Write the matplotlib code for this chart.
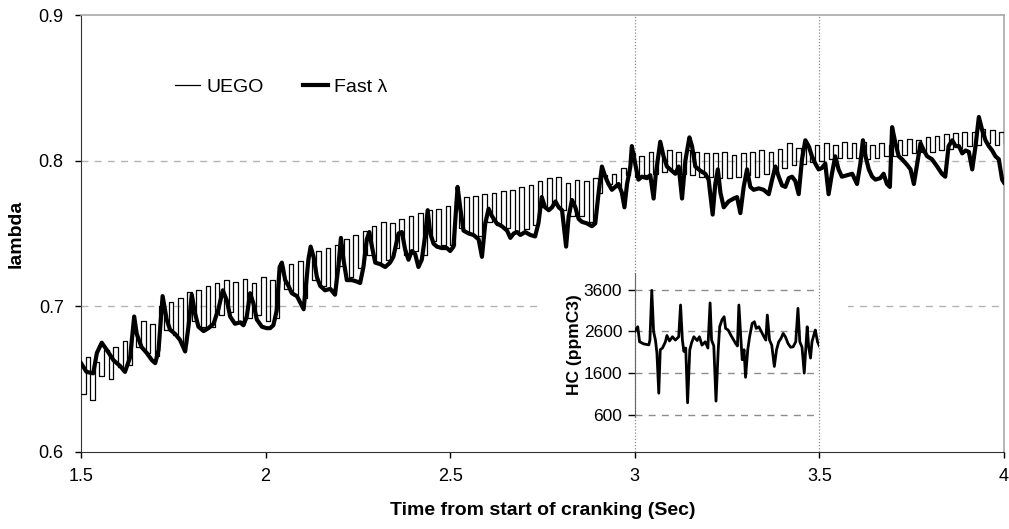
import matplotlib.pyplot as plt
import numpy as np
from matplotlib.patches import Rectangle

plt.rcParams['font.family'] = ['Liberation Sans', 'DejaVu Sans']

# UEGO lambda, held for 12.5 ms per sample starting at 1.5 s
uego = [0.640, 0.665, 0.636, 0.662, 0.652, 0.670, 0.650, 0.672,
        0.658, 0.676, 0.660, 0.684, 0.672, 0.690, 0.668, 0.688,
        0.666, 0.700, 0.684, 0.703, 0.680, 0.706, 0.674, 0.710,
        0.690, 0.711, 0.686, 0.714, 0.686, 0.716, 0.694, 0.718,
        0.696, 0.717, 0.690, 0.719, 0.692, 0.716, 0.694, 0.720,
        0.690, 0.718, 0.692, 0.727, 0.712, 0.729, 0.708, 0.731,
        0.706, 0.735, 0.718, 0.738, 0.714, 0.740, 0.712, 0.742,
        0.728, 0.746, 0.720, 0.749, 0.726, 0.752, 0.735, 0.755,
        0.730, 0.758, 0.732, 0.757, 0.740, 0.760, 0.735, 0.762,
        0.738, 0.764, 0.735, 0.766, 0.745, 0.767, 0.742, 0.769,
        0.742, 0.772, 0.754, 0.775, 0.750, 0.776, 0.748, 0.777,
        0.758, 0.778, 0.756, 0.779, 0.754, 0.780, 0.752, 0.782,
        0.753, 0.783, 0.756, 0.786, 0.768, 0.788, 0.770, 0.789,
        0.766, 0.785, 0.762, 0.787, 0.762, 0.786, 0.758, 0.788,
        0.778, 0.790, 0.784, 0.791, 0.782, 0.795, 0.790, 0.805,
        0.789, 0.803, 0.790, 0.806, 0.791, 0.807, 0.792, 0.807,
        0.792, 0.806, 0.791, 0.807, 0.790, 0.806, 0.789, 0.805,
        0.789, 0.805, 0.788, 0.806, 0.788, 0.804, 0.789, 0.805,
        0.790, 0.806, 0.789, 0.807, 0.791, 0.806, 0.793, 0.808,
        0.795, 0.812, 0.797, 0.809, 0.798, 0.810, 0.799, 0.811,
        0.800, 0.812, 0.801, 0.811, 0.802, 0.813, 0.802, 0.812,
        0.802, 0.813, 0.801, 0.811, 0.802, 0.812, 0.803, 0.811,
        0.803, 0.814, 0.804, 0.815, 0.805, 0.814, 0.806, 0.816,
        0.806, 0.817, 0.807, 0.818, 0.808, 0.819, 0.809, 0.820,
        0.810, 0.820, 0.811, 0.822, 0.812, 0.821, 0.811, 0.820,
        0.812]

# fast lambda sensor
fast_t = [1.500, 1.515, 1.533, 1.543, 1.556, 1.570, 1.588, 1.606, 1.619, 1.633,
          1.644, 1.651, 1.664, 1.678, 1.692, 1.701, 1.710, 1.721, 1.732, 1.741,
          1.755, 1.768, 1.782, 1.791, 1.800, 1.809, 1.818, 1.832, 1.845, 1.859,
          1.872, 1.884, 1.895, 1.904, 1.917, 1.931, 1.940, 1.949, 1.958, 1.967,
          1.976, 1.990, 2.003, 2.012, 2.021, 2.030, 2.038, 2.044, 2.053, 2.062,
          2.071, 2.085, 2.103, 2.116, 2.122, 2.130, 2.139, 2.148, 2.161, 2.175,
          2.188, 2.197, 2.204, 2.211, 2.220, 2.234, 2.247, 2.256, 2.265, 2.274,
          2.281, 2.288, 2.297, 2.310, 2.324, 2.337, 2.346, 2.360, 2.369, 2.378,
          2.387, 2.396, 2.405, 2.414, 2.423, 2.432, 2.439, 2.446, 2.455, 2.464,
          2.477, 2.491, 2.500, 2.509, 2.520, 2.527, 2.536, 2.550, 2.563, 2.577,
          2.586, 2.595, 2.604, 2.613, 2.626, 2.640, 2.654, 2.663, 2.672, 2.681,
          2.690, 2.703, 2.717, 2.730, 2.739, 2.748, 2.757, 2.767, 2.776, 2.785,
          2.794, 2.803, 2.814, 2.821, 2.830, 2.839, 2.848, 2.857, 2.870, 2.884,
          2.893, 2.902, 2.911, 2.920, 2.929, 2.938, 2.947, 2.956, 2.965, 2.972,
          2.979, 2.988, 2.992, 3.001, 3.010, 3.019, 3.033, 3.042, 3.051, 3.057,
          3.069, 3.078, 3.087, 3.096, 3.110, 3.119, 3.128, 3.137, 3.148, 3.155,
          3.164, 3.178, 3.191, 3.200, 3.211, 3.218, 3.225, 3.232, 3.241, 3.254,
          3.268, 3.277, 3.286, 3.295, 3.304, 3.313, 3.322, 3.336, 3.349, 3.363,
          3.372, 3.381, 3.390, 3.399, 3.408, 3.417, 3.426, 3.435, 3.444, 3.453,
          3.462, 3.471, 3.480, 3.489, 3.498, 3.507, 3.516, 3.525, 3.534, 3.543,
          3.552, 3.561, 3.575, 3.589, 3.602, 3.611, 3.618, 3.625, 3.634, 3.643,
          3.652, 3.665, 3.674, 3.683, 3.691, 3.697, 3.706, 3.715, 3.724, 3.738,
          3.747, 3.756, 3.765, 3.774, 3.783, 3.792, 3.805, 3.819, 3.832, 3.841,
          3.850, 3.860, 3.869, 3.878, 3.887, 3.896, 3.905, 3.914, 3.923, 3.932,
          3.941, 3.950, 3.959, 3.968, 3.977, 3.986, 3.995, 4.000]
fast = [0.661, 0.655, 0.654, 0.668, 0.675, 0.670, 0.663, 0.659, 0.655, 0.665,
        0.693, 0.681, 0.672, 0.668, 0.663, 0.661, 0.670, 0.707, 0.691, 0.684,
        0.681, 0.677, 0.669, 0.686, 0.708, 0.695, 0.686, 0.683, 0.685, 0.688,
        0.698, 0.711, 0.704, 0.693, 0.688, 0.689, 0.687, 0.693, 0.709, 0.702,
        0.691, 0.686, 0.685, 0.685, 0.687, 0.697, 0.727, 0.730, 0.718, 0.714,
        0.709, 0.707, 0.698, 0.732, 0.741, 0.734, 0.720, 0.714, 0.711, 0.712,
        0.708, 0.727, 0.747, 0.732, 0.718, 0.718, 0.717, 0.716, 0.727, 0.746,
        0.751, 0.741, 0.730, 0.729, 0.727, 0.730, 0.734, 0.750, 0.751, 0.739,
        0.732, 0.738, 0.736, 0.727, 0.732, 0.748, 0.766, 0.750, 0.743, 0.741,
        0.740, 0.740, 0.738, 0.741, 0.782, 0.768, 0.752, 0.750, 0.749, 0.746,
        0.734, 0.757, 0.767, 0.762, 0.757, 0.755, 0.752, 0.747, 0.750, 0.751,
        0.749, 0.751, 0.749, 0.748, 0.757, 0.775, 0.768, 0.766, 0.768, 0.772,
        0.768, 0.766, 0.741, 0.762, 0.773, 0.768, 0.760, 0.758, 0.757, 0.755,
        0.757, 0.778, 0.796, 0.789, 0.784, 0.780, 0.782, 0.784, 0.778, 0.768,
        0.784, 0.796, 0.810, 0.798, 0.787, 0.789, 0.788, 0.790, 0.774, 0.791,
        0.813, 0.803, 0.796, 0.794, 0.791, 0.796, 0.774, 0.800, 0.816, 0.810,
        0.796, 0.793, 0.791, 0.787, 0.763, 0.784, 0.794, 0.778, 0.768, 0.772,
        0.774, 0.775, 0.764, 0.782, 0.794, 0.782, 0.780, 0.781, 0.780, 0.777,
        0.787, 0.796, 0.789, 0.783, 0.782, 0.788, 0.789, 0.786, 0.777, 0.801,
        0.814, 0.810, 0.803, 0.798, 0.794, 0.795, 0.798, 0.777, 0.791, 0.803,
        0.794, 0.789, 0.790, 0.791, 0.784, 0.798, 0.814, 0.803, 0.794, 0.789,
        0.787, 0.788, 0.791, 0.784, 0.782, 0.823, 0.812, 0.803, 0.801, 0.797,
        0.794, 0.784, 0.798, 0.812, 0.807, 0.803, 0.801, 0.796, 0.791, 0.789,
        0.810, 0.814, 0.810, 0.810, 0.805, 0.807, 0.806, 0.794, 0.810, 0.830,
        0.821, 0.814, 0.810, 0.807, 0.803, 0.801, 0.787, 0.785]

# exhaust HC between 3.0 and 3.5 s
hc_t = [3.000, 3.008, 3.013, 3.024, 3.038, 3.041, 3.046, 3.051, 3.056, 3.060,
        3.065, 3.069, 3.075, 3.083, 3.087, 3.094, 3.102, 3.110, 3.119, 3.124,
        3.129, 3.133, 3.138, 3.143, 3.149, 3.154, 3.160, 3.169, 3.175, 3.182,
        3.191, 3.198, 3.204, 3.208, 3.214, 3.220, 3.226, 3.230, 3.236, 3.242,
        3.246, 3.253, 3.260, 3.268, 3.273, 3.278, 3.282, 3.287, 3.291, 3.296,
        3.300, 3.306, 3.311, 3.318, 3.324, 3.329, 3.336, 3.343, 3.350, 3.355,
        3.359, 3.365, 3.371, 3.378, 3.384, 3.390, 3.396, 3.402, 3.408, 3.415,
        3.422, 3.429, 3.436, 3.442, 3.447, 3.453, 3.459, 3.463, 3.467, 3.471,
        3.476, 3.480, 3.485, 3.489, 3.495, 3.500]
hc = [2600, 2710, 2350, 2300, 2275, 2390, 3580, 2590, 2390, 2080,
      1120, 2160, 2200, 2350, 2500, 2370, 2470, 2390, 2470, 3230,
      2390, 2120, 2200, 890, 2160, 2330, 2470, 2380, 2470, 2270,
      2350, 2200, 3280, 2390, 2250, 930, 2160, 2710, 2870, 2950,
      2670, 2630, 2510, 2390, 2310, 2250, 3230, 2470, 1920, 2160,
      1500, 2160, 2470, 2790, 2830, 2670, 2710, 2590, 2470, 2390,
      2990, 2390, 2270, 1760, 2160, 2350, 2430, 2550, 2470, 2310,
      2220, 2230, 2350, 3150, 2350, 2220, 1600, 2160, 2710, 2230,
      1960, 2350, 2510, 2630, 2350, 2250]

x_ticks = [1.5, 2, 2.5, 3, 3.5, 4]
x_labels = ['1.5', '2', '2.5', '3', '3.5', '4']
y_ticks = [0.6, 0.7, 0.8, 0.9]
hc_ticks = [600, 1600, 2600, 3600]

fig = plt.figure(figsize=(10.09, 5.29), dpi=100)
ax = fig.add_axes([0.0803, 0.1456, 0.9147, 0.826])

uego_t = 1.5 + 0.0125 * np.arange(len(uego))
ax.plot(uego_t, uego, drawstyle='steps-post', color='black', lw=0.9,
        label='UEGO', zorder=3)
ax.plot(fast_t, fast, color='black', lw=3.0, solid_joinstyle='round',
        label='Fast λ', zorder=4)

for y in [0.7, 0.8]:
    ax.axhline(y, color='#b4b4b4', lw=1.0, ls=(0, (5, 4.5)), zorder=1)
# blank area under the HC inset
ax.add_patch(Rectangle((0.497, 0.05), 0.334, 0.385, transform=ax.transAxes,
                       facecolor='white', edgecolor='none', zorder=1.5))
for x in [3, 3.5]:
    ax.axvline(x, color='#8c8c8c', lw=0.9, ls=(0, (1, 1.5)), zorder=1.6)

ax.set_xlim(1.5, 4)
ax.set_ylim(0.6, 0.9)
ax.set_xticks(x_ticks)
ax.set_xticklabels(x_labels)
ax.set_yticks(y_ticks)
ax.set_yticklabels([f'{v:.1f}' for v in y_ticks])
ax.tick_params(axis='both', direction='out', length=4.5, width=1, labelsize=13)
ax.tick_params(axis='y', pad=8)
ax.tick_params(axis='x', pad=7)
ax.spines['left'].set_color('#333333')
ax.spines['bottom'].set_color('#333333')
for s in ['top', 'right']:
    ax.spines[s].set_color('#a8a8a8')
    ax.spines[s].set_linewidth(1.2)

ax.set_xlabel('Time from start of cranking (Sec)', fontsize=14,
              fontweight='bold', labelpad=12)
ax.set_ylabel('lambda', fontsize=14, fontweight='bold', labelpad=10)

ax.legend(loc='center left', bbox_to_anchor=(0.102, 0.835), ncol=2,
          frameon=False, fontsize=14, handlelength=1.3, handletextpad=0.3,
          columnspacing=2.0, borderpad=0, borderaxespad=0)

# HC inset sharing the time axis between 3.0 and 3.5 s
ins = ax.inset_axes([0.6, 0.081, 0.2, 0.329])
ins.set_facecolor('none')
ins.plot(hc_t, hc, color='black', lw=2.0, zorder=3)
for v in hc_ticks:
    ins.axhline(v, color='#8c8c8c', lw=1.0, ls=(0, (5, 4.5)), zorder=1)
ins.set_xlim(3, 3.5)
ins.set_ylim(560, 4000)
ins.set_xticks([])
ins.set_yticks(hc_ticks)
ins.tick_params(axis='y', direction='out', length=5, width=1, labelsize=12.5,
                pad=4)
for s in ['top', 'right', 'bottom']:
    ins.spines[s].set_visible(False)
ins.spines['left'].set_color('#666666')
ins.set_ylabel('HC (ppmC3)', fontsize=12.5, fontweight='bold', labelpad=1)

fig.savefig('out.png', dpi=100)
